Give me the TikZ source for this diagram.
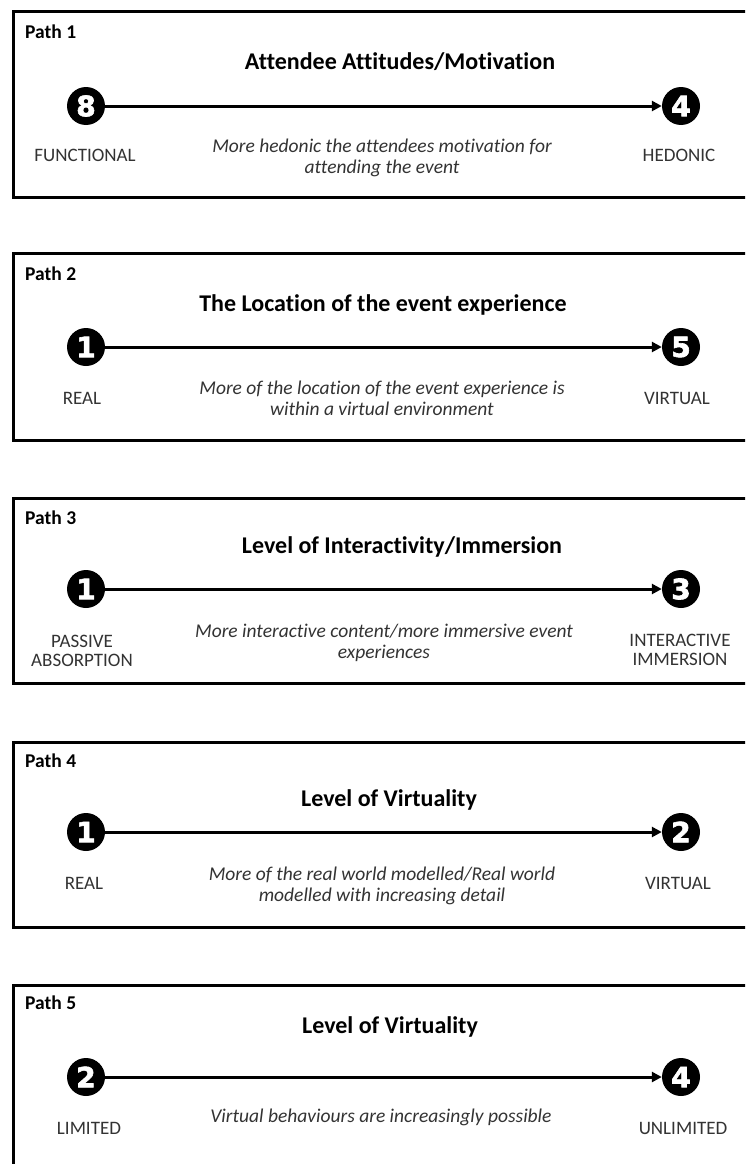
\documentclass[tikz,border=0pt]{standalone}
\usepackage{fontspec}
\setmainfont{Carlito}[Ligatures={NoCommon}]
\newfontfamily\digitfont[FakeBold=2.2]{DejaVu Sans Bold}
\usetikzlibrary{arrows.meta}

\begin{document}
\begin{tikzpicture}[x=1pt,y=-1pt,
  panel/.style={line width=3pt, draw=black},
  pathlbl/.style={anchor=west, font=\fontsize{19.5}{22}\selectfont\bfseries, inner sep=0pt},
  heading/.style={font=\fontsize{24}{28}\selectfont\bfseries, inner sep=0pt},
  dot/.style={circle, fill=black, minimum size=38pt, inner sep=0pt, text=white,
              font=\digitfont\fontsize{28}{28}\selectfont},
  endlbl/.style={align=center, font=\fontsize{19}{19.5}\selectfont, text=black!80, inner sep=0pt},
  note/.style={align=center, font=\fontsize{19.5}{21}\selectfont\itshape, text=black!80, inner sep=0pt},
  axis/.style={line width=3pt, -{Triangle[length=10pt,width=10pt]}}
]
\useasboundingbox (0,0) rectangle (745,1164);
\clip (0,0) rectangle (745,1164);
\fill[white] (0,0) rectangle (745,1164);

% ---------- Path 1 ----------
\draw[panel] (13.5,12) rectangle (800,197);
\node[pathlbl] (p1) at (25,32) {Path 1};
\node[heading] (h1) at (400,62) {Attendee Attitudes/Motivation};
\node[dot] (a1) at (86,106) {8};
\node[dot] (b1) at (681,106) {4};
\draw[axis] (a1) -- (b1);
\node[endlbl] (l1) at (85,155) {FUNCTIONAL};
\node[endlbl] (r1) at (679,155) {HEDONIC};
\node[note] (n1) at (382,158) {More hedonic the attendees motivation for\\attending the event};

% ---------- Path 2 ----------
\draw[panel] (13.5,253.5) rectangle (800,440);
\node[pathlbl] (p2) at (25,274) {Path 2};
\node[heading] (h2) at (383,305) {The Location of the event experience};
\node[dot] (a2) at (86,347) {1};
\node[dot] (b2) at (681,347) {5};
\draw[axis] (a2) -- (b2);
\node[endlbl] (l2) at (82,398) {REAL};
\node[endlbl] (r2) at (677,398) {VIRTUAL};
\node[note] (n2) at (382,398) {More of the location of the event experience is\\within a virtual environment};

% ---------- Path 3 ----------
\draw[panel] (13.5,498.5) rectangle (800,683);
\node[pathlbl] (p3) at (25,518) {Path 3};
\node[heading] (h3) at (402,547) {Level of Interactivity/Immersion};
\node[dot] (a3) at (86,589) {1};
\node[dot] (b3) at (681,589) {3};
\draw[axis] (a3) -- (b3);
\node[endlbl] (l3) at (82,651) {PASSIVE\\ABSORPTION};
\node[endlbl] (r3) at (680,650) {INTERACTIVE\\IMMERSION};
\node[note] (n3) at (384,643) {More interactive content/more immersive event\\experiences};

% ---------- Path 4 ----------
\draw[panel] (13.5,742.5) rectangle (800,927);
\node[pathlbl] (p4) at (25,761) {Path 4};
\node[heading] (h4) at (389,800) {Level of Virtuality};
\node[dot] (a4) at (86,832) {1};
\node[dot] (b4) at (681,832) {2};
\draw[axis] (a4) -- (b4);
\node[endlbl] (l4) at (84,883) {REAL};
\node[endlbl] (r4) at (678,883) {VIRTUAL};
\node[note] (n4) at (382,886) {More of the real world modelled/Real world\\modelled with increasing detail};

% ---------- Path 5 ----------
\draw[panel] (13.5,985.5) rectangle (800,1200);
\node[pathlbl] (p5) at (25,1003) {Path 5};
\node[heading] (h5) at (390,1027) {Level of Virtuality};
\node[dot] (a5) at (86,1077) {2};
\node[dot] (b5) at (681,1077) {4};
\draw[axis] (a5) -- (b5);
\node[endlbl] (l5) at (89,1128) {LIMITED};
\node[endlbl] (r5) at (683,1128) {UNLIMITED};
\node[note] (n5) at (381,1117) {Virtual behaviours are increasingly possible};
\end{tikzpicture}
\end{document}
